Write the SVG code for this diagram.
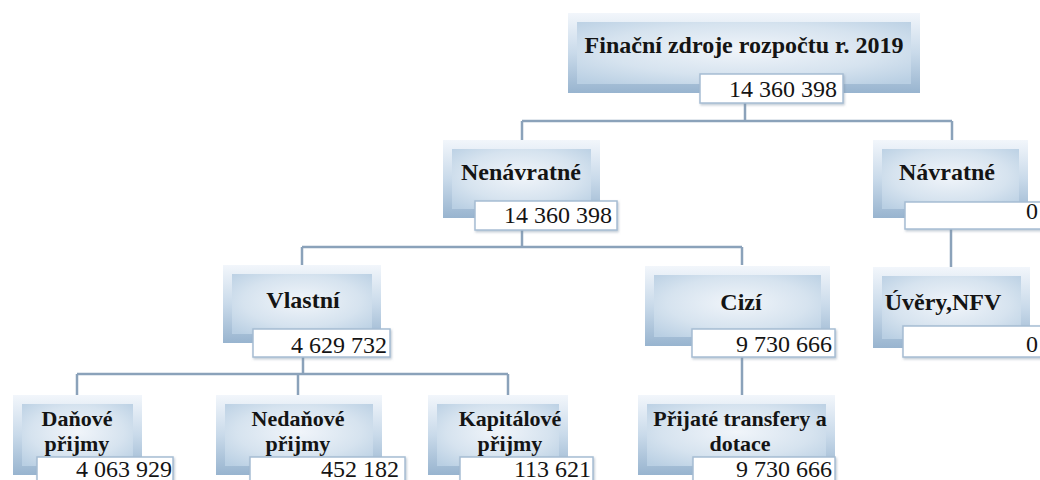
<svg xmlns="http://www.w3.org/2000/svg" width="1040" height="480" viewBox="0 0 1040 480">
<defs>
<linearGradient id="bevel" x1="0" y1="0" x2="0" y2="1">
<stop offset="0" stop-color="#f2f6fb"/>
<stop offset="0.5" stop-color="#c9daea"/>
<stop offset="1" stop-color="#98b4cf"/>
</linearGradient>
<radialGradient id="face" cx="0.5" cy="0.45" r="0.7">
<stop offset="0" stop-color="#f1f5fa"/>
<stop offset="0.6" stop-color="#d6e3ef"/>
<stop offset="1" stop-color="#b9cfe3"/>
</radialGradient>
<filter id="sh" x="-10%" y="-10%" width="120%" height="130%">
<feDropShadow dx="1" dy="1.5" stdDeviation="1" flood-color="#7f93a8" flood-opacity="0.5"/>
</filter>
</defs>
<style>
.outer{fill:url(#bevel)}
.face{fill:url(#face)}
.vbox{fill:#ffffff;stroke:#a7bdd3;stroke-width:1.5;filter:url(#sh)}
.lbl{font-family:"Liberation Serif","Times New Roman",serif;font-weight:bold;font-size:24px;fill:#141414;text-anchor:middle}
.lbl2{font-size:22px}
.val{font-family:"Liberation Serif","Times New Roman",serif;font-size:24px;fill:#141414;text-anchor:end}
.conn{stroke:#8ba2ba;stroke-width:2.5;fill:none}
</style>
<rect width="1040" height="480" fill="#ffffff"/>
<g id="connectors">
<path class="conn" d="M745,103 V121 M522,121 H952 M522,121 V140 M952,121 V140"/>
<path class="conn" d="M522,230 V247 M302,247 H742 M302,247 V265 M742,247 V265"/>
<path class="conn" d="M951,229 V267"/>
<path class="conn" d="M303,357 V374 M77,374 H508 M77,374 V395 M298,374 V395 M508,374 V395"/>
<path class="conn" d="M742,357 V395"/>
</g>
<g id="node-root">
<rect class="outer" x="568" y="13" width="352" height="80"/>
<rect class="face" x="577" y="22" width="334" height="62"/>
<text class="lbl" x="744" y="53">Finační zdroje rozpočtu r. 2019</text>
<rect class="vbox" x="700" y="74" width="143" height="29"/>
<text class="val" x="837" y="97">14 360 398</text>
</g>
<g id="node-nenavratne">
<rect class="outer" x="443" y="140" width="157" height="78"/>
<rect class="face" x="452" y="149" width="139" height="60"/>
<text class="lbl" x="521" y="180">Nenávratné</text>
<rect class="vbox" x="475" y="201" width="142" height="29"/>
<text class="val" x="612" y="223">14 360 398</text>
</g>
<g id="node-navratne">
<rect class="outer" x="873" y="140" width="155" height="78"/>
<rect class="face" x="882" y="149" width="137" height="60"/>
<text class="lbl" x="947" y="180">Návratné</text>
<rect class="vbox" x="905" y="202" width="145" height="27"/>
<text class="val" x="1038" y="219">0</text>
</g>
<g id="node-vlastni">
<rect class="outer" x="223" y="265" width="158" height="78"/>
<rect class="face" x="232" y="274" width="140" height="60"/>
<text class="lbl" x="303" y="308">Vlastní</text>
<rect class="vbox" x="253" y="329" width="137" height="28"/>
<text class="val" x="387" y="353">4 629 732</text>
</g>
<g id="node-cizi">
<rect class="outer" x="645" y="266" width="185" height="80"/>
<rect class="face" x="654" y="275" width="167" height="62"/>
<text class="lbl" x="741" y="310">Cizí</text>
<rect class="vbox" x="692" y="329" width="143" height="28"/>
<text class="val" x="832" y="352">9 730 666</text>
</g>
<g id="node-uvery">
<rect class="outer" x="873" y="267" width="157" height="81"/>
<rect class="face" x="882" y="276" width="139" height="63"/>
<text class="lbl" x="943" y="310">Úvěry,NFV</text>
<rect class="vbox" x="903" y="326" width="147" height="31"/>
<text class="val" x="1038" y="352">0</text>
</g>
<g id="node-danove">
<rect class="outer" x="13" y="395" width="129" height="80"/>
<rect class="face" x="22" y="404" width="111" height="62"/>
<text class="lbl lbl2" x="77" y="426">Daňové</text>
<text class="lbl lbl2" x="77" y="451">přijmy</text>
<rect class="vbox" x="37" y="457" width="136" height="30"/>
<text class="val" x="172" y="477">4 063 929</text>
</g>
<g id="node-nedanove">
<rect class="outer" x="216" y="395" width="166" height="80"/>
<rect class="face" x="225" y="404" width="148" height="62"/>
<text class="lbl lbl2" x="298" y="426">Nedaňové</text>
<text class="lbl lbl2" x="298" y="451">přijmy</text>
<rect class="vbox" x="250" y="457" width="155" height="30"/>
<text class="val" x="399" y="477">452 182</text>
</g>
<g id="node-kapitalove">
<rect class="outer" x="428" y="395" width="140" height="80"/>
<rect class="face" x="437" y="404" width="122" height="62"/>
<text class="lbl lbl2" x="510" y="426">Kapitálové</text>
<text class="lbl lbl2" x="510" y="451">přijmy</text>
<rect class="vbox" x="460" y="457" width="133" height="30"/>
<text class="val" x="591" y="477">113 621</text>
</g>
<g id="node-prijate">
<rect class="outer" x="638" y="395" width="197" height="80"/>
<rect class="face" x="647" y="404" width="179" height="62"/>
<text class="lbl lbl2" x="740" y="426">Přijaté transfery a</text>
<text class="lbl lbl2" x="740" y="451">dotace</text>
<rect class="vbox" x="693" y="457" width="142" height="30"/>
<text class="val" x="832" y="477">9 730 666</text>
</g>
</svg>
